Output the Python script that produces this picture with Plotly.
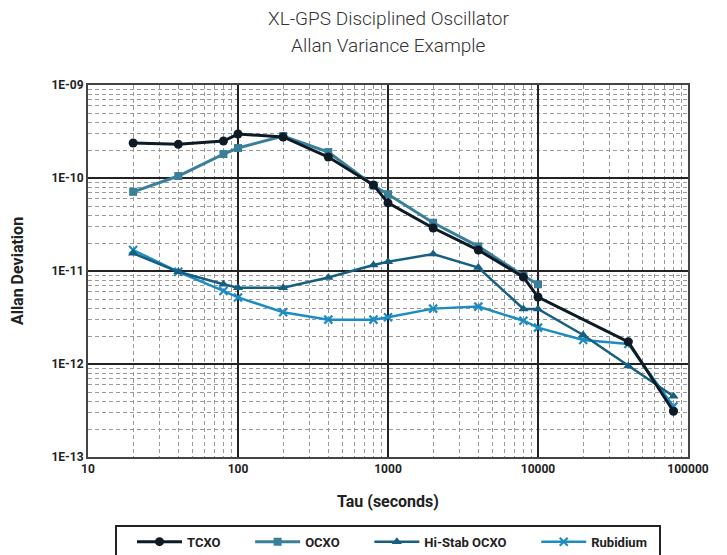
import plotly.graph_objects as go

tau_tcxo = [20, 40, 80, 100, 200, 400, 800, 1000, 2000, 4000, 8000, 10000, 40000, 80000]
tcxo = [2.38e-10, 2.3e-10, 2.5e-10, 2.97e-10, 2.76e-10, 1.68e-10, 8.4e-11, 5.4e-11, 2.9e-11, 1.68e-11, 8.6e-12, 5.25e-12, 1.73e-12, 3.1e-13]

tau_ocxo = [20, 40, 80, 100, 200, 400, 800, 1000, 2000, 4000, 8000, 10000]
ocxo = [7.1e-11, 1.05e-10, 1.81e-10, 2.1e-10, 2.83e-10, 1.9e-10, 8.3e-11, 6.7e-11, 3.3e-11, 1.84e-11, 8.9e-12, 7.2e-12]

tau_hs = [20, 40, 80, 100, 200, 400, 800, 1000, 2000, 4000, 8000, 10000, 20000, 40000, 80000]
histab = [1.55e-11, 9.8e-12, 7.2e-12, 6.6e-12, 6.6e-12, 8.5e-12, 1.16e-11, 1.26e-11, 1.52e-11, 1.09e-11, 3.9e-12, 3.9e-12, 2.05e-12, 9.5e-13, 4.5e-13]

tau_rb = [20, 40, 80, 100, 200, 400, 800, 1000, 2000, 4000, 8000, 10000, 20000, 40000, 80000]
rubidium = [1.68e-11, 9.8e-12, 6.1e-12, 5.2e-12, 3.6e-12, 3.0e-12, 3.0e-12, 3.18e-12, 3.94e-12, 4.14e-12, 2.92e-12, 2.46e-12, 1.81e-12, 1.64e-12, 3.5e-13]

series_names = ["TCXO", "OCXO", "Hi-Stab OCXO", "Rubidium"]

x_tickvals = [10, 100, 1000, 10000, 100000]
x_ticktext = ["10", "100", "1000", "10000", "100000"]
y_tickvals = [1e-13, 1e-12, 1e-11, 1e-10, 1e-9]
y_ticktext = ["1E-13", "1E-12", "1E-11", "1E-10", "1E-09"]

title_lines = ["XL-GPS Disciplined Oscillator", "Allan Variance Example"]

x_minor = [m * 10 ** e for e in range(1, 5) for m in range(2, 10)]
y_minor = [m * 10.0 ** e for e in range(-13, -9) for m in range(2, 10)]

FONT = "Roboto"
PAD = "\u00a0" * 3  # trailing spacing between legend entries


def label(name, last=False):
    return name + ("\u00a0\u00a0" if last else PAD)


fig = go.Figure()
fig.add_trace(go.Scatter(x=tau_rb, y=rubidium, name=label(series_names[3], True), mode="lines+markers",
                         line=dict(color="#1d8cc2", width=2.5), legendrank=4,
                         marker=dict(symbol="x-thin-open", size=8, line=dict(width=2.2, color="#1d8cc2"))))
fig.add_trace(go.Scatter(x=tau_hs, y=histab, name=label(series_names[2]), mode="lines+markers",
                         line=dict(color="#165f80", width=2.5), legendrank=3,
                         marker=dict(symbol="triangle-up", size=9, color="#165f80")))
fig.add_trace(go.Scatter(x=tau_ocxo, y=ocxo, name=label(series_names[1]), mode="lines+markers",
                         line=dict(color="#3a7f9a", width=3), legendrank=2,
                         marker=dict(symbol="square", size=8, color="#3a7f9a")))
fig.add_trace(go.Scatter(x=tau_tcxo, y=tcxo, name=label(series_names[0]), mode="lines+markers",
                         line=dict(color="#0e1a24", width=3), legendrank=1,
                         marker=dict(symbol="circle", size=9, color="#0e1a24")))

# The page body adds an 8px offset, so the figure is sized 8px smaller and margins shifted.
fig.update_layout(
    width=719, height=547,
    margin=dict(l=80, r=39, t=77, b=98, autoexpand=False),
    paper_bgcolor="white", plot_bgcolor="white",
    font=dict(family=FONT, color="#222"),
    showlegend=True,
    legend=dict(orientation="h", x=0.5, xanchor="center", y=-0.182, yanchor="top",
                bordercolor="#222", borderwidth=2, itemwidth=45, indentation=15,
                font=dict(family=FONT, size=13, weight="bold", color="#222"),
                traceorder="normal"),
    annotations=[
        dict(text=title_lines[0], xref="paper", yref="paper", x=0.5, y=1.18,
             xanchor="center", yanchor="middle", showarrow=False,
             font=dict(family=FONT, size=19, color="#333", weight=300)),
        dict(text=title_lines[1], xref="paper", yref="paper", x=0.5, y=1.1075,
             xanchor="center", yanchor="middle", showarrow=False,
             font=dict(family=FONT, size=19, color="#333", weight=300)),
    ],
)

fig.update_xaxes(
    type="log", range=[1, 5],
    tickmode="array", tickvals=x_tickvals, ticktext=x_ticktext,
    tickfont=dict(family=FONT, size=12, weight="bold", color="#222"),
    ticks="", showgrid=True, gridcolor="#222", gridwidth=1.5,
    showline=True, linecolor="#444", linewidth=2, mirror=True,
    zeroline=False,
    minor=dict(tickmode="array", tickvals=x_minor, showgrid=True, gridcolor="#999",
               griddash="4px,3px", gridwidth=1, ticks=""),
    title=dict(text="Tau (seconds)", font=dict(family=FONT, size=16, weight="bold", color="#222"),
               standoff=20),
)
fig.update_yaxes(
    type="log", range=[-13, -9],
    tickmode="array", tickvals=y_tickvals, ticktext=y_ticktext,
    tickfont=dict(family=FONT, size=12, weight="bold", color="#222"),
    ticks="", showgrid=True, gridcolor="#222", gridwidth=1.5,
    showline=True, linecolor="#444", linewidth=2, mirror=True,
    zeroline=False,
    minor=dict(tickmode="array", tickvals=y_minor, showgrid=True, gridcolor="#999",
               griddash="4px,3px", gridwidth=1, ticks=""),
    title=dict(text="Allan Deviation", font=dict(family=FONT, size=16, weight="bold", color="#222"),
               standoff=26),
)

fig.write_html("out.html")
